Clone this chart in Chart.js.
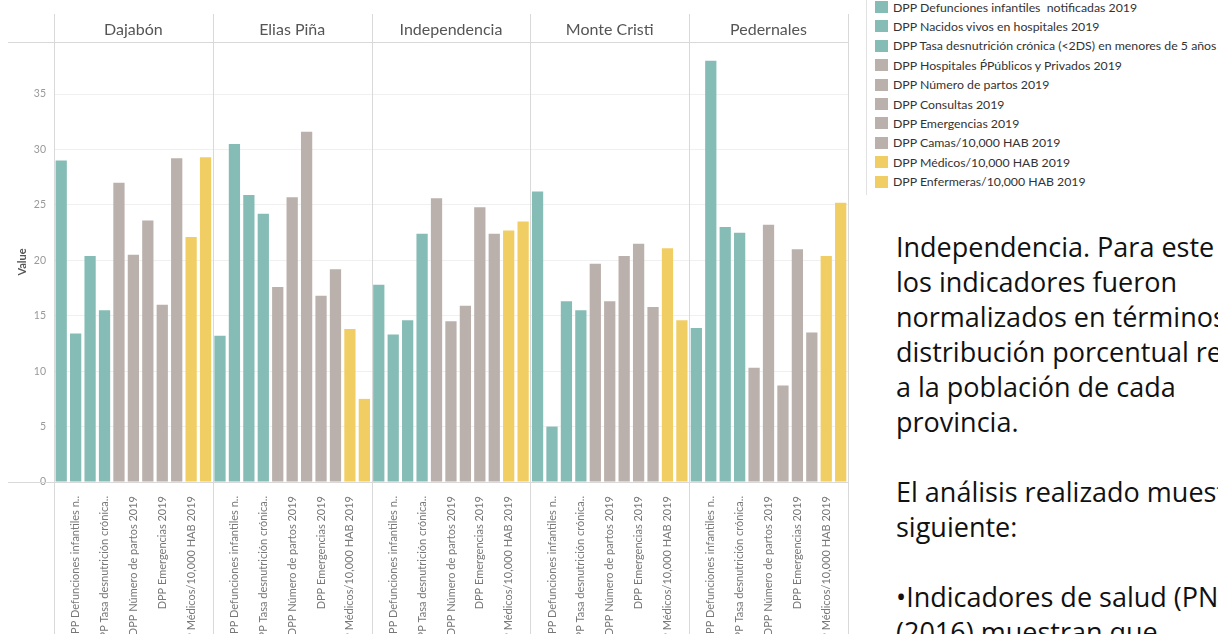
<!DOCTYPE html>
<html lang="es">
<head>
<meta charset="utf-8">
<title>Indicadores por provincia 2019</title>
<script src="https://cdn.jsdelivr.net/npm/chart.js@4.4.1/dist/chart.umd.min.js"></script>
<style>
  html, body { margin: 0; padding: 0; width: 1218px; height: 634px; overflow: hidden; background: #fff; }
  #chart { position: absolute; left: 0; top: 0; }
  #legend { position: absolute; left: 866px; top: -22px; border-left: 1px solid #e2e2e2; padding: 0 0 4px 8px; font: 12.3px Lato, sans-serif; color: #333; }
  .item { height: 19.4px; display: flex; align-items: center; white-space: pre; }
  .swatch { width: 13px; height: 12px; margin-right: 5px; flex: none; }
  #notes { position: absolute; left: 896px; top: 229px; font: 27px "Open Sans", sans-serif; line-height: 35px; color: #111; white-space: nowrap; }
</style>
</head>
<body>
<canvas id="chart" width="860" height="700"></canvas>
<div id="legend"></div>
<div id="notes">
  Independencia. Para este análisis<br>
  los indicadores fueron<br>
  normalizados en términos de<br>
  distribución porcentual respecto<br>
  a la población de cada<br>
  provincia.<br>
  <br>
  El análisis realizado muestra lo<br>
  siguiente:<br>
  <br>
  •Indicadores de salud (PNUD<br>
  (2016) muestran que
</div>
<script>
const provinces = ['Dajabón', 'Elias Piña', 'Independencia', 'Monte Cristi', 'Pedernales'];

const indicators = [
  'DPP Defunciones maternas notificadas 2019',
  'DPP Defunciones infantiles  notificadas 2019',
  'DPP Nacidos vivos en hospitales 2019',
  'DPP Tasa desnutrición crónica (<2DS) en menores de 5 años',
  'DPP Hospitales ṔPúblicos y Privados 2019',
  'DPP Número de partos 2019',
  'DPP Consultas 2019',
  'DPP Emergencias 2019',
  'DPP Camas/10,000 HAB 2019',
  'DPP Médicos/10,000 HAB 2019',
  'DPP Enfermeras/10,000 HAB 2019'
];

// short names used under the bars (Tableau only shows every other one)
const tickLabels = [
  'DPP Defunciones maternas n..',
  'DPP Defunciones infantiles n..',
  'DPP Nacidos vivos en hospit..',
  'DPP Tasa desnutrición crónica..',
  'DPP Hospitales ṔPúblicos y P..',
  'DPP Número de partos 2019',
  'DPP Consultas 2019',
  'DPP Emergencias 2019',
  'DPP Camas/10,000 HAB 2019',
  'DPP Médicos/10,000 HAB 2019',
  'DPP Enfermeras/10,000 HAB 2019'
];

// values per province, same order as indicators
const dajabon       = [29.0, 13.4, 20.4, 15.5, 27.0, 20.5, 23.6, 16.0, 29.2, 22.1, 29.3];
const eliasPina     = [13.2, 30.5, 25.9, 24.2, 17.6, 25.7, 31.6, 16.8, 19.2, 13.8, 7.5];
const independencia = [17.8, 13.3, 14.6, 22.4, 25.6, 14.5, 15.9, 24.8, 22.4, 22.7, 23.5];
const monteCristi   = [26.2, 5.0, 16.3, 15.5, 19.7, 16.3, 20.4, 21.5, 15.8, 21.1, 14.6];
const pedernales    = [13.9, 38.0, 23.0, 22.5, 10.3, 23.2, 8.7, 21.0, 13.5, 20.4, 25.2];

const yTicks = [0, 5, 10, 15, 20, 25, 30, 35];

const teal = '#86bcb6';
const grey = '#bab0ac';
const yellow = '#f1ce63';
const indicatorColors = [teal, teal, teal, teal, grey, grey, grey, grey, grey, yellow, yellow];

const provinceValues = [dajabon, eliasPina, independencia, monteCristi, pedernales];

// flatten into one bar per province/indicator
const labels = [];
const values = [];
const colors = [];
provinces.forEach(function(p, pi) {
  indicators.forEach(function(name, ii) {
    labels.push(name);
    values.push(provinceValues[pi][ii]);
    colors.push(indicatorColors[ii]);
  });
});

// html legend
const legend = document.getElementById('legend');
indicators.forEach(function(name, i) {
  const row = document.createElement('div');
  row.className = 'item';
  const sw = document.createElement('span');
  sw.className = 'swatch';
  sw.style.background = indicatorColors[i];
  row.appendChild(sw);
  row.appendChild(document.createTextNode(name));
  legend.appendChild(row);
});

// panel separators, header rule and zero line
const panelLines = {
  id: 'panelLines',
  beforeDatasetsDraw(chart) {
    const ctx = chart.ctx;
    const x = chart.scales.x;
    const area = chart.chartArea;
    const n = provinces.length;
    const top = chart.scales.x2.top;
    const left = chart.scales.y.left;
    ctx.save();
    ctx.strokeStyle = '#d9d9d9';
    ctx.lineWidth = 1;
    ctx.beginPath();
    for (let k = 0; k <= n; k++) {
      const px = Math.round(x.left + k * x.width / n) + 0.5;
      ctx.moveTo(px, top);
      ctx.lineTo(px, chart.height);
    }
    [area.top, area.bottom].forEach(function(py) {
      const yy = Math.round(py) + 0.5;
      ctx.moveTo(left, yy);
      ctx.lineTo(x.right, yy);
    });
    ctx.stroke();
    ctx.restore();
  }
};

Chart.defaults.font.family = 'Lato, sans-serif';

new Chart(document.getElementById('chart'), {
  type: 'bar',
  data: {
    labels: labels,
    datasets: [{
      label: 'Value',
      data: values,
      backgroundColor: colors,
      barPercentage: 0.78,
      categoryPercentage: 1
    }]
  },
  options: {
    responsive: false,
    animation: false,
    layout: { padding: { top: 14, left: 8, right: 7, bottom: 0 } },
    plugins: { legend: { display: false }, tooltip: { enabled: false } },
    scales: {
      x: {
        type: 'category',
        offset: true,
        grid: { display: false },
        border: { display: false },
        ticks: {
          autoSkip: false,
          minRotation: 90,
          maxRotation: 90,
          padding: 6,
          color: '#777',
          font: { size: 11 },
          callback: function(value, index) {
            const i = index % indicators.length;
            return i % 2 === 1 ? tickLabels[i] : '';
          }
        },
        afterFit: function(s) { s.height = 218; }
      },
      x2: {
        type: 'category',
        position: 'top',
        labels: provinces,
        offset: true,
        grid: { display: false },
        border: { display: false },
        ticks: { padding: -5, color: '#555', font: { size: 16 } },
        afterFit: function(s) { s.height = 28; }
      },
      y: {
        min: 0,
        max: 39.7,
        afterBuildTicks: function(s) { s.ticks = yTicks.map(v => ({ value: v })); },
        ticks: { color: '#999', font: { size: 10.5 }, padding: 8 },
        grid: { color: '#f0f0f0', drawTicks: false },
        border: { display: false },
        title: { display: true, text: 'Value', color: '#555', font: { size: 11, weight: 'bold' }, padding: { top: 8, bottom: 0 } },
        afterFit: function(s) { s.width = 46; }
      }
    }
  },
  plugins: [panelLines]
});
</script>
</body>
</html>
